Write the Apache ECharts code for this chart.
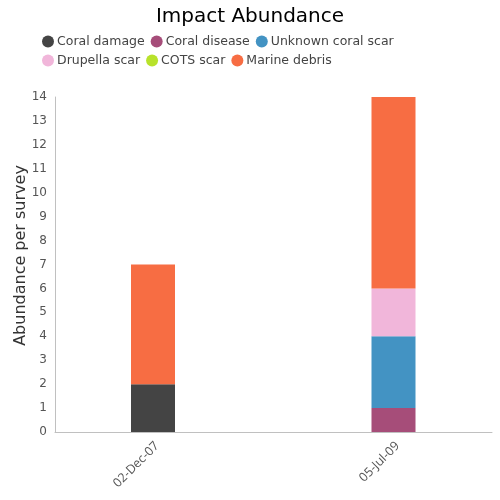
<!DOCTYPE html>
<html><head><meta charset="utf-8">
<script src="https://cdn.jsdelivr.net/npm/echarts@6/dist/echarts.min.js"></script>
<style>html,body{margin:0;padding:0;background:#fff}#c{width:500px;height:500px}</style>
</head><body><div id="c"></div>
<script>
const categories = ['02-Dec-07', '05-Jul-09'];
const seriesNames = ['Coral damage', 'Coral disease', 'Unknown coral scar', 'Drupella scar', 'COTS scar', 'Marine debris'];
const coralDamage = [2, 0];
const coralDisease = [0, 1];
const unknownCoralScar = [0, 3];
const drupellaScar = [0, 2];
const cotsScar = [0, 0];
const marineDebris = [5, 8];
const colors = ['#444444', '#a64d79', '#4393c3', '#f1b6da', '#b8e22b', '#f76d43'];
const allValues = [coralDamage, coralDisease, unknownCoralScar, drupellaScar, cotsScar, marineDebris];

const chart = echarts.init(document.getElementById('c'), null, {renderer: 'canvas'});
const font = 'DejaVu Sans';
chart.setOption({
  animation: false,
  textStyle: {fontFamily: font},
  title: {text: 'Impact Abundance', left: 'center', top: 2,
    textStyle: {fontFamily: font, fontSize: 20, fontWeight: 'normal', color: '#000'}},
  legend: {left: 37, top: 30, width: 370, itemWidth: 12, itemHeight: 12, itemGap: 6,
    icon: 'circle', textStyle: {fontFamily: font, fontSize: 12.5, color: '#444', padding: [0, 0, 0, -2]},
    data: seriesNames},
  grid: [
    {left: 55, right: 8, top: 97, bottom: 68, containLabel: false},
    {left: 153, width: 240.5, top: 97, bottom: 68, containLabel: false},
    {left: 157, width: 240.5, top: 97, bottom: 68, containLabel: false}
  ],
  xAxis: [
    {type: 'category', gridIndex: 0, data: [''],
      axisLine: {show: true, lineStyle: {color: '#c0c0c0'}},
      axisTick: {show: false}, axisLabel: {show: false}, splitLine: {show: false}},
    {type: 'category', gridIndex: 1, data: categories, boundaryGap: false,
      axisLine: {show: false}, axisTick: {show: false}, splitLine: {show: false},
      axisLabel: {show: false}},
    {type: 'category', gridIndex: 2, data: categories, boundaryGap: false,
      axisLine: {show: false}, axisTick: {show: false}, splitLine: {show: false},
      axisLabel: {rotate: 45, fontSize: 12.5, color: '#555', fontFamily: 'Open Sans', margin: 12}}
  ],
  yAxis: [
    {type: 'value', gridIndex: 0, min: 0, max: 14, interval: 1,
      name: 'Abundance per survey', nameLocation: 'middle', nameGap: 26, nameMoveOverlap: false,
      nameTextStyle: {fontFamily: font, fontSize: 16, color: '#333', padding: [0, 0, 0, 18]},
      axisLine: {show: true, lineStyle: {color: '#c0c0c0'}},
      axisTick: {show: false}, splitLine: {show: false},
      axisLabel: {fontSize: 12, color: '#555', fontFamily: font, margin: 8}},
    {type: 'value', gridIndex: 1, min: 0, max: 14, interval: 1, show: false, splitLine: {show: false}},
    {type: 'value', gridIndex: 2, min: 0, max: 14, interval: 1, show: false, splitLine: {show: false}}
  ],
  series: seriesNames.map((name, k) => ({
    name, type: 'bar', stack: 'total', barWidth: 44,
    xAxisIndex: 1, yAxisIndex: 1,
    itemStyle: {color: colors[k]},
    data: allValues[k]
  }))
});
</script></body></html>
